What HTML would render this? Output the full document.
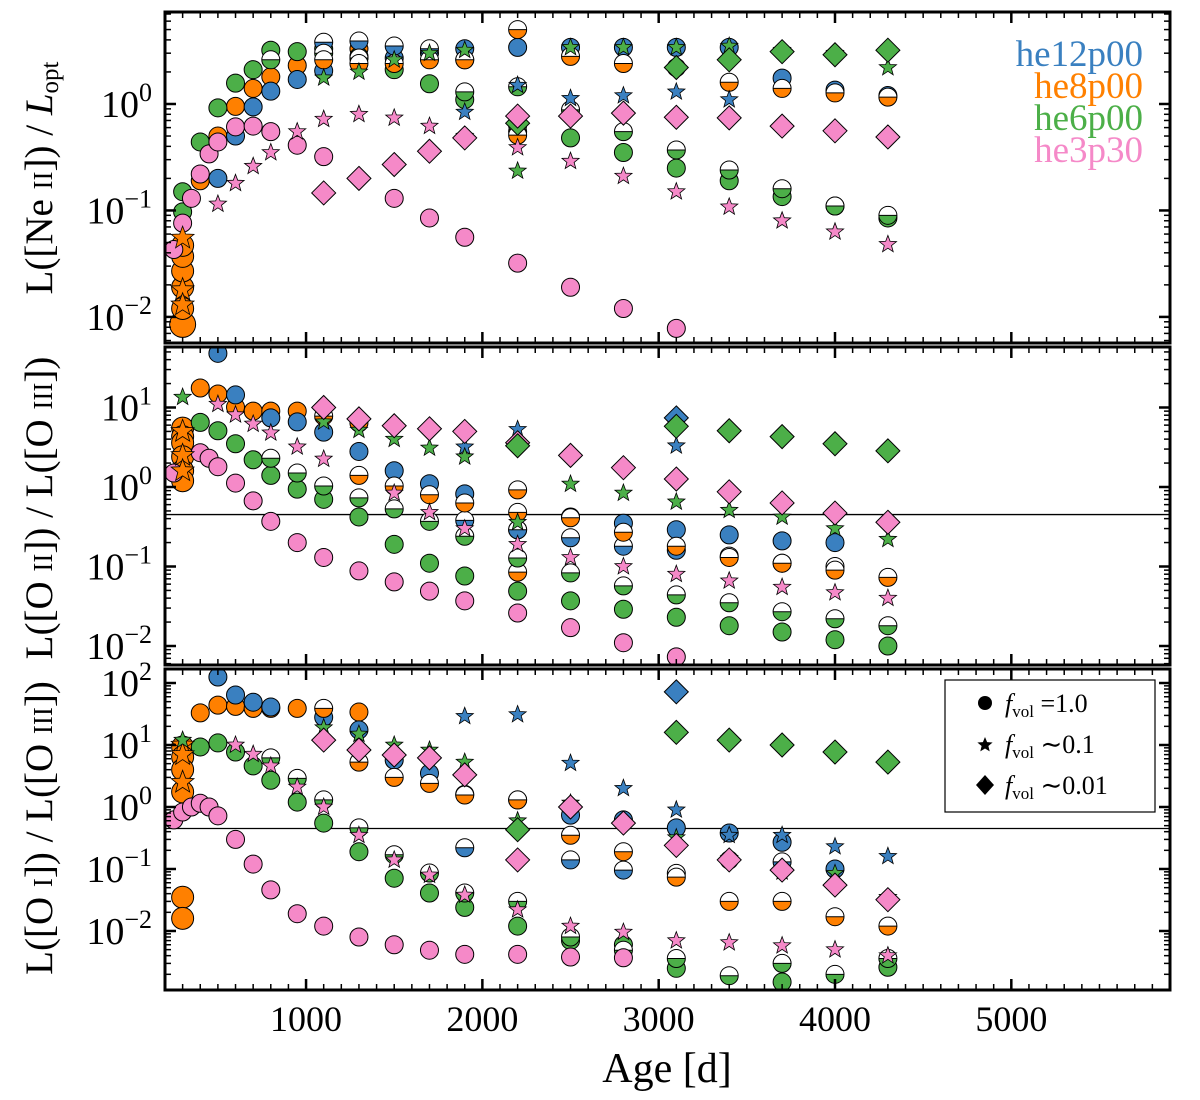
<!DOCTYPE html>
<html><head><meta charset="utf-8"><style>
html,body{margin:0;padding:0;background:#fff;}
svg{display:block;font-family:"Liberation Serif",serif;}
</style></head><body>
<svg id="chart" width="1200" height="1100" viewBox="0 0 1200 1100" xmlns="http://www.w3.org/2000/svg">
<defs>
<clipPath id="c1"><rect x="165" y="12" width="1005" height="331"/></clipPath>
<clipPath id="c2"><rect x="165" y="347" width="1005" height="318"/></clipPath>
<clipPath id="c3"><rect x="165" y="669" width="1005" height="321"/></clipPath>
</defs>
<g id="layer"></g>
<g font-size="37" text-anchor="end">
<text x="1143" y="66" fill="#3a80c0">he12p00</text>
<text x="1143" y="98" fill="#ff8000">he8p00</text>
<text x="1143" y="130" fill="#4caf48">he6p00</text>
<text x="1143" y="162" fill="#f589c8">he3p30</text>
</g>
<g>
<rect x="945" y="680" width="210" height="132" fill="#fff" stroke="#000" stroke-width="1.2"/>
<circle cx="985" cy="703" r="7" fill="#000"/>
<path d="M985,737 L987.1,742.1 L992.6,742.5 L988.4,746 L989.7,751.4 L985,748.5 L980.3,751.4 L981.6,746 L977.4,742.5 L982.9,742.1Z" fill="#000"/>
<path d="M985,775 L994,785 L985,795 L976,785Z" fill="#000"/>
<text x="1005" y="712" font-size="26"><tspan font-style="italic">f</tspan><tspan font-size="17" dy="5">vol</tspan><tspan dy="-5"> =1.0</tspan></text>
<text x="1005" y="753" font-size="26"><tspan font-style="italic">f</tspan><tspan font-size="17" dy="5">vol</tspan><tspan dy="-5"> ∼0.1</tspan></text>
<text x="1005" y="794" font-size="26"><tspan font-style="italic">f</tspan><tspan font-size="17" dy="5">vol</tspan><tspan dy="-5"> ∼0.01</tspan></text>
</g>
<text x="667" y="1082" font-size="42" text-anchor="middle">Age [d]</text>
<text transform="translate(52,178) rotate(-90)" font-size="39" text-anchor="middle">L([Ne <tspan font-size="27">II</tspan>]) / <tspan font-style="italic">L</tspan><tspan font-size="25" dy="6">opt</tspan></text>
<text transform="translate(52,508) rotate(-90)" font-size="39" text-anchor="middle">L([O <tspan font-size="27">II</tspan>]) / L([O <tspan font-size="27">III</tspan>])</text>
<text transform="translate(52,828) rotate(-90)" font-size="39" text-anchor="middle">L([O <tspan font-size="27">I</tspan>]) / L([O <tspan font-size="27">III</tspan>])</text>
</svg>
<script>
// x ticks
const xTicks = [1000,2000,3000,4000,5000];
// ---------- Panel 1: L([Ne II]) / L_opt ----------
const p1_pinkCirc_x = [250,300,350,400,450,500,600,700,800,950,1100,1500,1700,1900,2200,2500,2800,3100];
const p1_pinkCirc_y = [0.043,0.076,0.13,0.22,0.34,0.44,0.61,0.62,0.55,0.41,0.32,0.13,0.085,0.056,0.032,0.019,0.012,0.0078];
const p1_greenCirc_x = [300,300,400,500,600,700,800,950,1100,1300,1500,1700,1900,2200,2500,2800,3100,3400,3700,4000,4300];
const p1_greenCirc_y = [0.097,0.15,0.44,0.92,1.57,2.1,3.2,3.1,3.3,2.8,2.1,1.55,1.1,0.63,0.48,0.35,0.25,0.19,0.135,0.11,0.085];
const p1_blueCirc_x = [500,600,700,800,950,1100,1300,1500,1700,1900,2200,2500,2800,3100,3400,3700,4000,4300];
const p1_blueCirc_y = [0.2,0.5,0.94,1.32,1.7,2.05,2.7,2.7,3.0,3.3,3.4,3.4,3.4,3.4,3.4,1.75,1.35,1.2];
const p1_orangeCirc_x = [300,300,300,300,300,300,400,500,600,700,800,950,1300,2200];
const p1_orangeCirc_y = [0.0085,0.012,0.019,0.027,0.037,0.047,0.19,0.5,0.95,1.4,1.8,2.3,3.3,0.55];
const p1_halfBlue_x = [1100,1300,1500,1700];
const p1_halfBlue_y = [3.8,3.9,3.5,3.3];
const p1_halfOrange_x = [1100,1300,1500,1700,1900,2200,2200,2500,2800,3100,3400,3700,4000,4300];
const p1_halfOrange_y = [2.6,2.4,2.4,2.6,2.6,5,0.51,2.8,2.4,2.2,1.6,1.4,1.27,1.16];
const p1_halfGreen_x = [800,1100,1300,1900,1900,2200,2500,2800,3100,3400,3700,4000,4300];
const p1_halfGreen_y = [2.6,3.0,2.7,2.6,1.3,1.45,0.88,0.55,0.37,0.24,0.16,0.11,0.09];
const p1_greenStar_x = [1100,1300,1500,1700,1900,2200,2500,2800,3100,3400,3700,4000,4300];
const p1_greenStar_y = [1.76,2.0,2.6,3.0,3.2,0.235,3.4,3.4,3.4,3.5,3.2,3.0,2.2];
const p1_blueStar_x = [1900,2200,2500,2800,3100,3400];
const p1_blueStar_y = [0.84,1.5,1.13,1.2,1.3,1.1];
const p1_pinkStar_x = [500,600,700,800,950,1100,1300,1500,1700,1900,2200,2500,2800,3100,3400,3700,4000,4300];
const p1_pinkStar_y = [0.115,0.18,0.26,0.35,0.55,0.72,0.8,0.74,0.62,0.5,0.39,0.29,0.21,0.15,0.108,0.08,0.063,0.048];
const p1_orangeStar_x = [300,300,300];
const p1_orangeStar_y = [0.055,0.018,0.013];
const p1_greenDiam_x = [2200,3100,3400,3700,4000,4300];
const p1_greenDiam_y = [0.66,2.2,2.6,3.1,2.9,3.2];
const p1_pinkDiam_x = [1100,1300,1500,1700,1900,2200,2500,2800,3100,3400,3700,4000,4300];
const p1_pinkDiam_y = [0.146,0.2,0.27,0.36,0.48,0.77,0.77,0.82,0.75,0.74,0.62,0.56,0.49];
// ---------- Panel 2: L([O II]) / L([O III]) ----------
const p2_pinkCirc_x = [250,400,450,500,600,700,800,950,1100,1300,1500,1700,1900,2200,2500,2800,3100];
const p2_pinkCirc_y = [1.5,2.7,2.3,1.8,1.12,0.67,0.37,0.2,0.13,0.088,0.064,0.049,0.037,0.026,0.017,0.011,0.0073];
const p2_greenCirc_x = [400,500,600,700,800,950,1100,1300,1500,1700,1900,2200,2500,2800,3100,3400,3700,4000,4300];
const p2_greenCirc_y = [6.5,5.1,3.5,2.2,1.4,0.94,0.7,0.42,0.19,0.11,0.076,0.049,0.037,0.029,0.023,0.018,0.015,0.012,0.01];
const p2_blueCirc_x = [500,600,800,950,1100,1300,1500,1700,1900,2200,2500,2800,3100,3400,3700,4000];
const p2_blueCirc_y = [48,14.4,7.4,6.6,4.9,2.8,1.6,1.1,0.82,0.29,0.42,0.35,0.29,0.25,0.21,0.2];
const p2_orangeCirc_x = [300,300,300,300,300,300,400,500,600,700,800,950,1300];
const p2_orangeCirc_y = [5.5,4.3,3.6,2.4,1.6,1.2,17.6,14.8,10.1,9.0,9.0,9.0,6.4];
const p2_halfBlue_x = [1900,2200,2500,2800,3100,3400,3700,4000];
const p2_halfBlue_y = [0.38,0.29,0.23,0.18,0.16,0.135,0.11,0.1];
const p2_halfOrange_x = [1100,1300,1500,1700,1900,2200,2200,2200,2500,2800,3100,3400,3700,4000,4300];
const p2_halfOrange_y = [7.8,1.4,1.03,0.8,0.63,0.92,0.48,0.085,0.41,0.27,0.18,0.13,0.11,0.09,0.073];
const p2_halfGreen_x = [800,950,1100,1300,1500,1700,1900,2200,2500,2800,3100,3400,3700,4000,4300];
const p2_halfGreen_y = [2.3,1.5,1.03,0.73,0.53,0.37,0.24,0.128,0.083,0.057,0.044,0.035,0.027,0.022,0.018];
const p2_greenStar_x = [300,1100,1300,1500,1700,1900,2200,2500,2800,3100,3400,3700,4000,4300];
const p2_greenStar_y = [13.5,6.6,5.2,4.0,3.1,2.4,0.36,1.09,0.84,0.65,0.51,0.42,0.3,0.22];
const p2_blueStar_x = [1900,2200,3100];
const p2_blueStar_y = [3.2,5.3,3.3];
const p2_pinkStar_x = [500,600,700,800,950,1100,1500,1700,1900,2200,2500,2800,3100,3400,3700,4000,4300];
const p2_pinkStar_y = [11,8.1,6.2,4.8,3.2,2.25,0.84,0.48,0.3,0.19,0.13,0.1,0.08,0.066,0.055,0.047,0.04];
const p2_orangeStar_x = [300,300,300];
const p2_orangeStar_y = [5,2.5,1.6];
const p2_blueDiam_x = [3100];
const p2_blueDiam_y = [7.4];
const p2_greenDiam_x = [2200,3100,3400,3700,4000,4300];
const p2_greenDiam_y = [3.3,5.8,5.1,4.3,3.5,2.85];
const p2_pinkDiam_x = [1100,1300,1500,1700,1900,2200,2500,2800,3100,3400,3700,4000,4300];
const p2_pinkDiam_y = [10,7.2,5.9,5.4,5.0,3.6,2.5,1.75,1.26,0.87,0.63,0.47,0.36];
// ---------- Panel 3: L([O I]) / L([O III]) ----------
const p3_pinkCirc_x = [250,300,350,400,450,500,600,700,800,950,1100,1300,1500,1700,1900,2200,2500,2800];
const p3_pinkCirc_y = [0.62,0.83,1.0,1.15,1.0,0.72,0.3,0.12,0.046,0.019,0.012,0.008,0.006,0.0049,0.0042,0.0042,0.0038,0.0037];
const p3_greenCirc_x = [400,500,600,700,800,950,1100,1300,1500,1700,1900,2200,2500,2800,3100,3700,4300];
const p3_greenCirc_y = [9.3,10.8,7.7,4.6,2.7,1.2,0.55,0.19,0.071,0.041,0.024,0.012,0.007,0.006,0.0025,0.0015,0.0026];
const p3_blueCirc_x = [500,600,700,800,1100,1300,1500,1700,1900,2200,2500,2800,3100,3400,3700,4000];
const p3_blueCirc_y = [125,64,49,41,28,17.5,5.7,3.5,1.6,1.3,0.74,0.62,0.46,0.38,0.27,0.1];
const p3_orangeCirc_x = [300,300,300,300,300,300,400,500,600,700,800,950,1300];
const p3_orangeCirc_y = [9.3,6.4,4.0,1.75,0.035,0.016,33,44,42,39,39,39,34];
const p3_halfBlue_x = [1900,2500,2800,3100,3400,3700];
const p3_halfBlue_y = [0.22,0.14,0.096,0.085,0.14,0.13];
const p3_halfOrange_x = [1100,1300,1500,1700,1900,2200,2500,2800,3100,3400,3700,4000,4300];
const p3_halfOrange_y = [39,5.3,3.0,2.4,1.56,1.3,0.35,0.19,0.074,0.03,0.03,0.017,0.012];
const p3_halfGreen_x = [800,950,1100,1300,1500,1700,1900,2200,2500,2800,3100,3400,3700,4000,4300];
const p3_halfGreen_y = [6.2,2.9,1.3,0.46,0.17,0.086,0.041,0.03,0.008,0.0049,0.0036,0.0019,0.003,0.002,0.0036];
const p3_greenStar_x = [300,1100,1300,1500,1700,1900,2200,2500,2800,3100,3400,3700,4000,4300];
const p3_greenStar_y = [12,19,15,10,8.3,5.3,0.6,1.16,0.57,0.32,0.15,0.09,0.085,0.035];
const p3_blueStar_x = [1900,2200,2500,2800,3100,3400,3700,4000,4300];
const p3_blueStar_y = [29,31,5.1,2.0,0.9,0.35,0.35,0.23,0.16];
const p3_pinkStar_x = [600,700,800,950,1100,1300,1500,1700,1900,2200,2500,2800,3100,3400,3700,4000,4300];
const p3_pinkStar_y = [10,7.1,4.6,2.1,1.0,0.35,0.14,0.08,0.038,0.022,0.012,0.0096,0.007,0.0065,0.0058,0.005,0.004];
const p3_orangeStar_x = [300,300,300];
const p3_orangeStar_y = [10,7,2.5];
const p3_blueDiam_x = [3100];
const p3_blueDiam_y = [72];
const p3_greenDiam_x = [2200,3100,3400,3700,4000,4300];
const p3_greenDiam_y = [0.43,16,12,10,7.7,5.3];
const p3_pinkDiam_x = [1100,1300,1500,1700,1900,2200,2500,2800,3100,3400,3700,4000,4300];
const p3_pinkDiam_y = [12,8.3,6.9,6.2,3.3,0.14,1.0,0.55,0.24,0.14,0.096,0.055,0.032];
// reference line value (panels 2 and 3)
const refLine = [0.45];

const NS = "http://www.w3.org/2000/svg";
const layer = document.getElementById('layer');
const COL = {blue:'#3a80c0', orange:'#ff8000', green:'#4caf48', pink:'#f589c8'};
const XL = 165, XR = 1170, XMIN = 200, XMAX = 5900;
function xs(v){ return XL + (v - XMIN) / (XMAX - XMIN) * (XR - XL); }
const panels = [
  {id:1, top:12, bot:343, lmin:-2.245, lmax:0.864, clip:'c1', decs:[-2,-1,0]},
  {id:2, top:347, bot:665, lmin:-2.239, lmax:1.761, clip:'c2', decs:[-2,-1,0,1]},
  {id:3, top:669, bot:990, lmin:-2.952, lmax:2.226, clip:'c3', decs:[-2,-1,0,1,2]}
];
function ysFor(p){ return v => p.bot - (Math.log10(v) - p.lmin) / (p.lmax - p.lmin) * (p.bot - p.top); }
function mk(tag, attrs, parent){ const e = document.createElementNS(NS, tag); for (const k in attrs) e.setAttribute(k, attrs[k]); (parent||layer).appendChild(e); return e; }

function starPath(cx, cy, r){
  let d = '';
  for (let i = 0; i < 10; i++){
    const rr = i % 2 ? r * 0.42 : r;
    const a = -Math.PI/2 + i * Math.PI/5;
    d += (i ? 'L' : 'M') + (cx + rr*Math.cos(a)).toFixed(1) + ',' + (cy + rr*Math.sin(a)).toFixed(1);
  }
  return d + 'Z';
}

function drawSeries(p, g, xsArr, ysArr, kind, color, name){
  const ys = ysFor(p);
  for (let i = 0; i < xsArr.length; i++){
    const cx = xs(xsArr[i]), cy = ys(ysArr[i]);
    let el;
    if (kind === 'circ'){
      const r = (color === 'orange' && xsArr[i] === 300) ? (i === 0 && p.id === 1 ? 13 : 11) : 9;
      el = mk('circle', {cx:cx, cy:cy, r:r, fill:COL[color], stroke:'#000', 'stroke-width':1}, g);
    } else if (kind === 'half'){
      el = mk('g', {}, g);
      mk('circle', {cx:cx, cy:cy, r:9, fill:'#fff'}, el);
      mk('path', {d:`M${cx-9},${cy} A9,9 0 0 0 ${cx+9},${cy} Z`, fill:COL[color]}, el);
      mk('line', {x1:cx-9, y1:cy, x2:cx+9, y2:cy, stroke:'#000', 'stroke-width':1}, el);
      mk('circle', {cx:cx, cy:cy, r:9, fill:'none', stroke:'#000', 'stroke-width':1}, el);
    } else if (kind === 'star'){
      const r = color === 'orange' ? 12 : 9;
      el = mk('path', {d:starPath(cx, cy, r), fill:COL[color], stroke:'#000', 'stroke-width':0.8}, g);
    } else {
      const r = 12;
      el = mk('path', {d:`M${cx},${cy-r} L${cx+r},${cy} L${cx},${cy+r} L${cx-r},${cy} Z`, fill:COL[color], stroke:'#000', 'stroke-width':1}, g);
    }
    
    
  }
}

const series = {
  1: [
    [p1_orangeCirc_x,p1_orangeCirc_y,'circ','orange'],[p1_greenCirc_x,p1_greenCirc_y,'circ','green'],
    [p1_blueCirc_x,p1_blueCirc_y,'circ','blue'],[p1_halfBlue_x,p1_halfBlue_y,'half','blue'],
    [p1_halfGreen_x,p1_halfGreen_y,'half','green'],[p1_halfOrange_x,p1_halfOrange_y,'half','orange'],
    [p1_pinkCirc_x,p1_pinkCirc_y,'circ','pink'],[p1_orangeStar_x,p1_orangeStar_y,'star','orange'],
    [p1_blueStar_x,p1_blueStar_y,'star','blue'],[p1_greenStar_x,p1_greenStar_y,'star','green'],
    [p1_pinkStar_x,p1_pinkStar_y,'star','pink'],[p1_greenDiam_x,p1_greenDiam_y,'diam','green'],
    [p1_pinkDiam_x,p1_pinkDiam_y,'diam','pink']],
  2: [
    [p2_orangeCirc_x,p2_orangeCirc_y,'circ','orange'],[p2_blueCirc_x,p2_blueCirc_y,'circ','blue'],
    [p2_greenCirc_x,p2_greenCirc_y,'circ','green'],[p2_halfBlue_x,p2_halfBlue_y,'half','blue'],
    [p2_halfOrange_x,p2_halfOrange_y,'half','orange'],[p2_halfGreen_x,p2_halfGreen_y,'half','green'],
    [p2_pinkCirc_x,p2_pinkCirc_y,'circ','pink'],[p2_orangeStar_x,p2_orangeStar_y,'star','orange'],
    [p2_blueStar_x,p2_blueStar_y,'star','blue'],[p2_greenStar_x,p2_greenStar_y,'star','green'],
    [p2_pinkStar_x,p2_pinkStar_y,'star','pink'],[p2_blueDiam_x,p2_blueDiam_y,'diam','blue'],
    [p2_pinkDiam_x,p2_pinkDiam_y,'diam','pink'],[p2_greenDiam_x,p2_greenDiam_y,'diam','green']],
  3: [
    [p3_orangeCirc_x,p3_orangeCirc_y,'circ','orange'],[p3_blueCirc_x,p3_blueCirc_y,'circ','blue'],
    [p3_greenCirc_x,p3_greenCirc_y,'circ','green'],[p3_halfBlue_x,p3_halfBlue_y,'half','blue'],
    [p3_halfOrange_x,p3_halfOrange_y,'half','orange'],[p3_halfGreen_x,p3_halfGreen_y,'half','green'],
    [p3_pinkCirc_x,p3_pinkCirc_y,'circ','pink'],[p3_orangeStar_x,p3_orangeStar_y,'star','orange'],
    [p3_blueStar_x,p3_blueStar_y,'star','blue'],[p3_greenStar_x,p3_greenStar_y,'star','green'],
    [p3_pinkStar_x,p3_pinkStar_y,'star','pink'],[p3_blueDiam_x,p3_blueDiam_y,'diam','blue'],
    [p3_pinkDiam_x,p3_pinkDiam_y,'diam','pink'],[p3_greenDiam_x,p3_greenDiam_y,'diam','green']]
};

panels.forEach(p => {
  const ys = ysFor(p);
  const pg = mk('g', {});
  
  
  if (p.id > 1){
    const ln = mk('line', {x1:XL, x2:XR, y1:ys(refLine[0]), y2:ys(refLine[0]), stroke:'#000', 'stroke-width':1.3}, pg);
    
    
  }
  const dg = mk('g', {'clip-path':`url(#${p.clip})`}, pg);
  
  
  series[p.id].forEach(s => drawSeries(p, dg, s[0], s[1], s[2], s[3], s[3] + '-' + s[2]));
  const tg = mk('g', {stroke:'#000'}, pg);
  
  
  for (let v = 300; v < XMAX; v += 100){
    const x = xs(v), maj = v % 1000 === 0, L = maj ? 11 : 6, w = maj ? 2.5 : 1.5;
    mk('line', {x1:x, x2:x, y1:p.bot, y2:p.bot - L, 'stroke-width':w}, tg);
    mk('line', {x1:x, x2:x, y1:p.top, y2:p.top + L, 'stroke-width':w}, tg);
  }
  for (let d = Math.floor(p.lmin); d <= Math.ceil(p.lmax); d++){
    for (let m = 1; m < 10; m++){
      const lv = d + Math.log10(m);
      if (lv < p.lmin || lv > p.lmax) continue;
      const y = p.bot - (lv - p.lmin) / (p.lmax - p.lmin) * (p.bot - p.top);
      const L = m === 1 ? 11 : 6, w = m === 1 ? 2.5 : 1.5;
      mk('line', {x1:XL, x2:XL + L, y1:y, y2:y, 'stroke-width':w}, tg);
      mk('line', {x1:XR, x2:XR - L, y1:y, y2:y, 'stroke-width':w}, tg);
    }
  }
  p.decs.forEach(d => {
    const y = ys(Math.pow(10, d));
    const t = mk('text', {x:152, y:y + 13, 'font-size':38, 'text-anchor':'end'}, pg);
    
    
    const a = document.createElementNS(NS, 'tspan'); a.textContent = '10'; t.appendChild(a);
    const b = document.createElementNS(NS, 'tspan'); b.setAttribute('dy', '-16'); b.setAttribute('font-size', '26');
    b.textContent = d < 0 ? '\u2212' + (-d) : String(d); t.appendChild(b);
  });
  const fr = mk('rect', {x:XL, y:p.top, width:XR - XL, height:p.bot - p.top, fill:'none', stroke:'#000', 'stroke-width':3}, pg);
  
  
});
xTicks.forEach(v => {
  const t = mk('text', {x:xs(v), y:1031, 'font-size':36, 'text-anchor':'middle'});
  
  
  t.textContent = String(v);
});
</script>
</body></html>
